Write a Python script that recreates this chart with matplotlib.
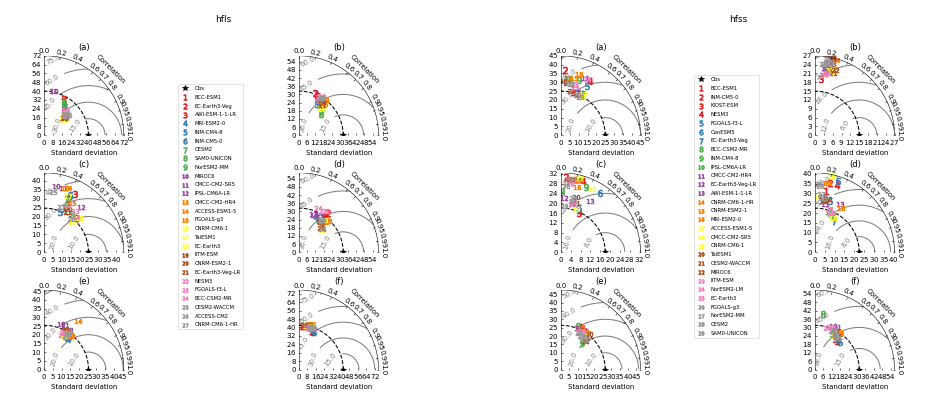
import numpy as np
import matplotlib
matplotlib.use('Agg')
import matplotlib.pyplot as plt
from matplotlib.projections import PolarAxes
import mpl_toolkits.axisartist.floating_axes as FA
import mpl_toolkits.axisartist.grid_finder as GF

# ---------------- dati ----------------
hfls_models = ['BCC-ESM1', 'EC-Earth3-Veg', 'AWI-ESM-1-1-LR', 'MRI-ESM2-0', 'INM-CM4-8',
               'INM-CM5-0', 'CESM2', 'SAM0-UNICON', 'NorESM2-MM', 'MIROC6', 'CMCC-CM2-SR5',
               'IPSL-CM6A-LR', 'CMCC-CM2-HR4', 'ACCESS-ESM1-5', 'FGOALS-g3', 'CNRM-CM6-1',
               'TaiESM1', 'EC-Earth3', 'IITM-ESM', 'CNRM-ESM2-1', 'EC-Earth3-Veg-LR', 'NESM3',
               'FGOALS-f3-L', 'BCC-CSM2-MR', 'CESM2-WACCM', 'ACCESS-CM2', 'CNRM-CM6-1-HR']
hfss_models = ['BCC-ESM1', 'INM-CM5-0', 'KIOST-ESM', 'NESM3', 'FGOALS-f3-L', 'CanESM5',
               'EC-Earth3-Veg', 'BCC-CSM2-MR', 'INM-CM4-8', 'IPSL-CM6A-LR', 'CMCC-CM2-HR4',
               'EC-Earth3-Veg-LR', 'AWI-ESM-1-1-LR', 'CNRM-CM6-1-HR', 'CNRM-ESM2-1', 'MRI-ESM2-0',
               'ACCESS-ESM1-5', 'CMCC-CM2-SR5', 'CNRM-CM6-1', 'TaiESM1', 'CESM2-WACCM', 'MIROC6',
               'IITM-ESM', 'NorESM2-LM', 'EC-Earth3', 'FGOALS-g3', 'NorESM2-MM', 'CESM2', 'SAM0-UNICON']

panel_titles = ['(a)', '(b)', '(c)', '(d)', '(e)', '(f)']

# deviazione standard osservata per pannello
hfls_ref = [40.0, 32.4, 24.7, 32.4, 25.4, 42.0]
hfss_ref = [25.0, 15.0, 18.0, 22.5, 26.4, 31.5]

# hfls
hfls_a_std = [35.8, 37.6, 33.3, 30.6, 29.7, 32.2, 34.5, 34.1, 32.4, 41.0, 40.8, 28.3, 24.1, 26.2,
              23.4, 22.8, 24.2, 23.3, 25.5, 26.9, 24.1, 29.0, 28.3, 29.8, 27.7, 26.2, 26.9]
hfls_a_cor = [0.50, 0.48, 0.54, 0.62, 0.67, 0.59, 0.49, 0.53, 0.56, 0.22, 0.20, 0.67, 0.75, 0.73,
              0.77, 0.79, 0.79, 0.73, 0.75, 0.74, 0.75, 0.69, 0.71, 0.64, 0.76, 0.76, 0.71]
hfls_b_std = [32.7, 33.2, 32.2, 27.8, 26.4, 26.6, 23.3, 22.6, 26.2, 30.9, 30.5, 29.5, 32.2, 30.8,
              29.2, 25.5, 25.6, 27.0, 29.4, 29.7, 27.8, 31.8, 32.8, 33.1, 31.4, 31.9, 29.2]
hfls_b_cor = [0.40, 0.36, 0.43, 0.50, 0.49, 0.56, 0.69, 0.71, 0.65, 0.49, 0.52, 0.47, 0.59, 0.58,
              0.62, 0.67, 0.62, 0.63, 0.58, 0.54, 0.61, 0.47, 0.52, 0.48, 0.51, 0.53, 0.51]
hfls_c_std = [32.3, 26.1, 36.7, 34.4, 24.3, 35.1, 27.3, 31.6, 26.6, 37.5, 37.5, 32.3, 37.8, 38.2,
              31.8, 22.9, 34.1, 27.6, 28.2, 27.3, 26.0, 29.6, 29.0, 26.6, 34.2, 23.9, 27.1]
hfls_c_cor = [0.40, 0.67, 0.47, 0.41, 0.37, 0.41, 0.40, 0.42, 0.58, 0.18, 0.28, 0.63, 0.30, 0.34,
              0.49, 0.68, 0.39, 0.71, 0.43, 0.48, 0.49, 0.45, 0.60, 0.67, 0.15, 0.63, 0.35]
hfls_d_std = [30.8, 35.6, 32.2, 28.7, 28.7, 29.4, 26.5, 27.8, 29.2, 29.2, 30.9, 29.9, 31.4, 31.2,
              29.1, 23.5, 24.4, 30.0, 27.5, 24.1, 27.5, 36.4, 35.0, 35.3, 28.8, 23.7, 28.6]
hfls_d_cor = [0.58, 0.60, 0.59, 0.44, 0.49, 0.58, 0.62, 0.61, 0.62, 0.38, 0.49, 0.34, 0.67, 0.64,
              0.65, 0.71, 0.70, 0.60, 0.59, 0.66, 0.55, 0.55, 0.51, 0.39, 0.56, 0.70, 0.59]
hfls_e_std = [24.2, 24.6, 23.6, 22.4, 22.6, 23.6, 24.9, 23.9, 22.5, 28.1, 28.0, 26.9, 24.4, 34.0,
              24.7, 23.3, 22.6, 25.0, 25.5, 25.6, 26.2, 23.6, 22.6, 24.4, 24.3, 22.7, 25.2]
hfls_e_cor = [0.50, 0.45, 0.53, 0.61, 0.58, 0.59, 0.50, 0.54, 0.53, 0.35, 0.42, 0.52, 0.62, 0.57,
              0.59, 0.51, 0.51, 0.54, 0.47, 0.51, 0.48, 0.46, 0.46, 0.47, 0.53, 0.55, 0.56]
hfls_f_std = [38.8, 41.8, 38.3, 38.5, 39.9, 39.8, 41.2, 40.5, 42.2, 40.7, 42.0, 43.2, 44.4, 44.6,
              42.4, 42.9, 42.4, 42.3, 43.2, 42.3, 40.3, 40.0, 41.5, 41.1, 41.3, 42.2, 40.8]
hfls_f_cor = [0.30, 0.07, 0.34, 0.38, 0.34, 0.30, 0.24, 0.27, 0.28, 0.17, 0.21, 0.23, 0.23, 0.27,
              0.14, 0.21, 0.26, 0.19, 0.19, 0.12, 0.25, 0.22, 0.27, 0.32, 0.29, 0.24, 0.33]

# hfss
hfss_a_std = [26.0, 37.2, 25.6, 34.7, 31.8, 24.6, 25.6, 26.8, 33.0, 32.6, 35.0, 26.4, 27.2, 32.6,
              33.2, 36.2, 26.8, 24.7, 25.1, 31.0, 29.5, 25.7, 29.7, 35.3, 28.2, 30.0, 29.6, 24.3, 24.7]
hfss_a_cor = [0.38, 0.06, 0.27, 0.47, 0.47, 0.41, 0.38, 0.47, 0.31, 0.13, 0.39, 0.42, 0.29, 0.14,
              0.23, 0.28, 0.47, 0.47, 0.48, 0.04, 0.11, 0.23, 0.25, 0.42, 0.28, 0.16, 0.20, 0.44, 0.36]
hfss_b_std = [26.6, 26.5, 19.3, 26.6, 25.3, 26.8, 25.7, 23.3, 22.6, 22.0, 25.1, 23.2, 22.9, 26.4,
              23.8, 22.7, 22.8, 22.2, 21.4, 26.9, 22.1, 23.1, 21.6, 20.7, 21.4, 24.5, 24.3, 26.3, 25.5]
hfss_b_cor = [0.17, 0.19, 0.10, 0.24, 0.24, 0.20, 0.23, 0.17, 0.22, 0.21, 0.17, 0.15, 0.17, 0.27,
              0.25, 0.24, 0.22, 0.25, 0.19, 0.20, 0.27, 0.30, 0.16, 0.14, 0.19, 0.11, 0.14, 0.15, 0.20]
hfss_c_std = [18.6, 30.9, 17.5, 30.4, 19.5, 28.9, 18.7, 24.6, 28.7, 30.3, 21.6, 22.3, 23.9, 29.8,
              30.4, 27.5, 31.4, 28.6, 18.6, 23.2, 21.0, 29.8, 29.6, 27.9, 20.1, 27.1, 18.9, 22.6, 30.1]
hfss_c_cor = [0.40, 0.07, 0.41, 0.29, 0.38, 0.55, 0.38, 0.02, 0.36, 0.23, 0.23, 0.05, 0.49, 0.23,
              0.16, 0.23, 0.25, 0.44, 0.32, 0.27, 0.30, 0.13, 0.20, 0.13, 0.22, 0.07, 0.06, 0.22, 0.10]
hfss_d_std = [31.9, 36.1, 22.4, 35.9, 27.4, 38.3, 18.8, 20.8, 20.2, 21.7, 25.1, 26.3, 27.7, 36.1,
              35.7, 26.0, 28.0, 19.7, 39.5, 27.3, 29.0, 27.8, 22.0, 21.4, 23.1, 34.7, 29.7, 34.1, 27.9]
hfss_d_cor = [0.18, 0.21, 0.33, 0.31, 0.28, 0.31, 0.52, 0.41, 0.45, 0.32, 0.20, 0.15, 0.46, 0.18,
              0.15, 0.50, 0.05, 0.46, 0.20, 0.19, 0.12, 0.23, 0.39, 0.35, 0.30, 0.05, 0.10, 0.07, 0.16]
hfss_e_std = [28.2, 26.4, 27.5, 25.7, 24.6, 25.0, 23.9, 28.0, 20.2, 24.7, 25.8, 26.7, 26.9, 26.8,
              28.4, 26.5, 25.0, 24.4, 25.3, 27.3, 22.0, 22.5, 24.9, 25.0, 26.2, 24.3, 23.4, 22.8, 23.3]
hfss_e_cor = [0.43, 0.42, 0.45, 0.45, 0.64, 0.60, 0.61, 0.36, 0.62, 0.53, 0.43, 0.39, 0.48, 0.53,
              0.43, 0.58, 0.54, 0.57, 0.49, 0.62, 0.64, 0.60, 0.49, 0.44, 0.48, 0.44, 0.56, 0.61, 0.51]
hfss_f_std = [25.6, 27.2, 25.7, 27.5, 26.1, 26.7, 28.3, 40.0, 29.0, 28.2, 34.1, 32.2, 33.6, 31.8,
              30.2, 31.4, 29.5, 29.6, 28.0, 28.8, 30.0, 31.1, 31.9, 30.7, 32.8, 31.1, 30.0, 27.5, 28.2]
hfss_f_cor = [0.60, 0.59, 0.55, 0.55, 0.67, 0.62, 0.53, 0.15, 0.44, 0.46, 0.45, 0.43, 0.39, 0.55,
              0.56, 0.51, 0.47, 0.51, 0.52, 0.55, 0.50, 0.47, 0.33, 0.27, 0.37, 0.43, 0.40, 0.56, 0.50]

hfls_std = [hfls_a_std, hfls_b_std, hfls_c_std, hfls_d_std, hfls_e_std, hfls_f_std]
hfls_cor = [hfls_a_cor, hfls_b_cor, hfls_c_cor, hfls_d_cor, hfls_e_cor, hfls_f_cor]
hfss_std = [hfss_a_std, hfss_b_std, hfss_c_std, hfss_d_std, hfss_e_std, hfss_f_std]
hfss_cor = [hfss_a_cor, hfss_b_cor, hfss_c_cor, hfss_d_cor, hfss_e_cor, hfss_f_cor]


# ---------------- diagramma di Taylor ----------------
def taylor(fig, rect, refstd, stds, cors, title, models):
    tr = PolarAxes.PolarTransform(apply_theta_transforms=False)
    rlocs = np.array([0, 0.2, 0.4, 0.6, 0.7, 0.8, 0.9, 0.95, 0.99, 1])
    tlocs = np.arccos(rlocs)
    gl1 = GF.FixedLocator(tlocs)
    tf1 = GF.DictFormatter(dict(zip(tlocs, map(str, rlocs))))
    smax = 1.8 * refstd
    gh = FA.GridHelperCurveLinear(tr, extremes=(0, np.pi / 2, 0, smax),
                                  grid_locator1=gl1, tick_formatter1=tf1)
    ax = FA.FloatingAxes(fig, rect, grid_helper=gh)
    fig.add_axes(ax)

    ax.axis["top"].set_axis_direction("bottom")
    ax.axis["top"].toggle(ticklabels=True, label=True)
    ax.axis["top"].major_ticklabels.set_axis_direction("top")
    ax.axis["top"].label.set_axis_direction("top")
    ax.axis["top"].label.set_text("Correlation")
    ax.axis["left"].set_axis_direction("bottom")
    ax.axis["left"].label.set_text("Standard deviation")
    ax.axis["right"].set_axis_direction("top")
    ax.axis["right"].toggle(ticklabels=True)
    ax.axis["right"].major_ticklabels.set_axis_direction("left")
    ax.axis["bottom"].set_visible(False)
    ax.set_title(title, pad=9)

    # contorni RMS (in coordinate cartesiane, solo dentro il quarto di cerchio)
    xg, yg = np.meshgrid(np.linspace(0, smax, 240), np.linspace(0, smax, 240))
    rms = np.sqrt((xg - refstd) ** 2 + yg ** 2)
    rms[np.hypot(xg, yg) > smax] = np.nan
    cs = ax.contour(xg, yg, rms, 5, colors='0.5', linewidths=1.5)
    # etichette vicino all'estremo sinistro di ogni arco
    pos = []
    for L in cs.levels:
        if L <= refstd:
            phi0 = np.pi
        else:
            phi0 = np.arccos(-refstd / L)
        phi = phi0 - 0.13 * smax / L
        px = refstd + L * np.cos(phi)
        py = L * np.sin(phi)
        if np.hypot(px, py) < smax:
            pos.append((px, py))
    ax.clabel(cs, inline=1, fontsize=10, fmt='%.1f', manual=pos)
    ax.set_xlim(0, smax)
    ax.set_ylim(0, smax)

    aux = ax.get_aux_axes(tr)
    star, = aux.plot([0], [refstd], 'k*', ls='', ms=10, label='Obs')
    t = np.linspace(0, np.pi / 2)
    aux.plot(t, np.zeros_like(t) + refstd, 'k--', lw=1.5)

    colors = matplotlib.colormaps['Set1'](np.linspace(0, 1, len(stds)))
    handles = [star]
    for i in range(len(stds)):
        p, = aux.plot(np.arccos(cors[i]), stds[i], marker='$%d$' % (i + 1), ms=10, ls='',
                      mfc=colors[i], mec=colors[i], label=models[i])
        handles.append(p)
    return handles


fig = plt.figure(figsize=(18.72, 7.96), dpi=50)

R = 79.5
col_x = [[44.3, 299.0], [561.0, 815.0]]
row_y = [135.3, 252.3, 369.5]

groups = [(hfls_ref, hfls_std, hfls_cor, hfls_models),
          (hfss_ref, hfss_std, hfss_cor, hfss_models)]
all_handles = []
for g in range(2):
    refs, stds, cors, models = groups[g]
    first = None
    for k in range(6):
        row = k // 2
        col = k % 2
        x0 = col_x[g][col]
        y0 = row_y[row]
        rect = [x0 / 936.0, (398.0 - y0) / 398.0, R / 936.0, R / 398.0]
        h = taylor(fig, rect, refs[k], stds[k], cors[k], panel_titles[k], models)
        if first is None:
            first = h
    all_handles.append(first)

leg1 = fig.legend(all_handles[0], [p.get_label() for p in all_handles[0]], numpoints=1,
                  prop=dict(size=7.5), loc='upper left', bbox_to_anchor=(178 / 936.0, 1 - 84 / 398.0),
                  borderaxespad=0, labelspacing=0.72, markerscale=0.8)
leg2 = fig.legend(all_handles[1], [p.get_label() for p in all_handles[1]], numpoints=1,
                  prop=dict(size=7.5), loc='upper left', bbox_to_anchor=(694 / 936.0, 1 - 75 / 398.0),
                  borderaxespad=0, labelspacing=0.72, markerscale=0.8)

fig.text(223 / 936.0, 1 - 19 / 398.0, 'hfls', ha='center', va='center', fontsize=13)
fig.text(738 / 936.0, 1 - 19 / 398.0, 'hfss', ha='center', va='center', fontsize=13)

fig.savefig('out.png', dpi=50)
